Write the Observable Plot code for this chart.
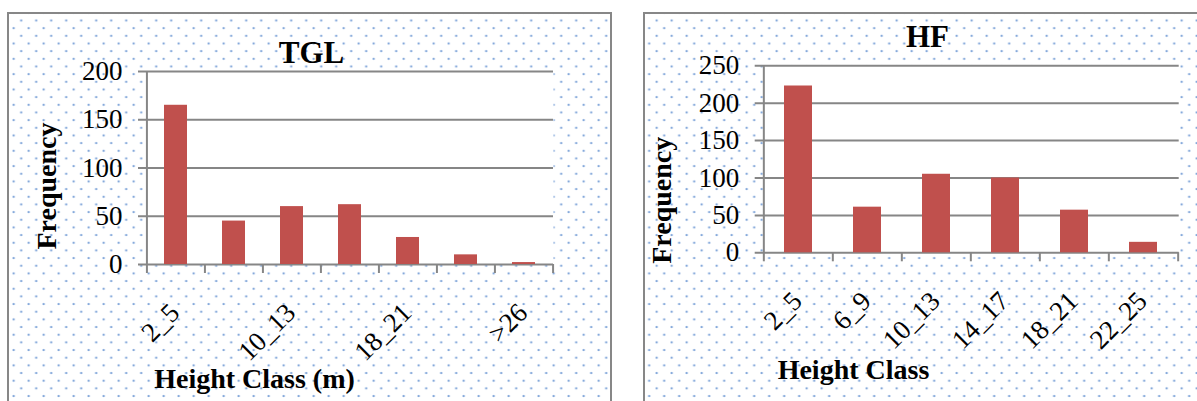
<!DOCTYPE html>
<html>
<head>
<meta charset="utf-8">
<script src="https://cdn.jsdelivr.net/npm/d3@7"></script>
<script src="https://cdn.jsdelivr.net/npm/@observablehq/plot@0.6"></script>
<style>
  html, body { margin: 0; padding: 0; background: #fff; }
  #page { position: relative; width: 1197px; height: 401px; overflow: hidden; background: #fff; }
  .panel {
    position: absolute;
    box-sizing: border-box;
    border: 2.6px solid #878787;
    background-color: #fff;
    background-image:
      radial-gradient(circle, rgba(96,143,208,0.95) 0, rgba(96,143,208,0.8) 0.7px, rgba(96,143,208,0) 1.5px),
      radial-gradient(circle, rgba(96,143,208,0.95) 0, rgba(96,143,208,0.8) 0.7px, rgba(96,143,208,0) 1.5px);
    background-size: 15px 15.33px, 15px 15.33px;
  }
  #panel-tgl { left: 7px; top: 11.5px; width: 605px; height: 430px; background-position: 4.7px -1.2px, 12.2px 6.5px; }
  #panel-hf { left: 642.5px; top: 11.5px; width: 600px; height: 430px; background-position: 4.2px -1.2px, 11.7px 6.5px; }
  .chart { position: absolute; top: 0; }
  #chart-tgl { left: 0; }
  #chart-hf { left: 630px; }
  .chart svg { overflow: visible; }
</style>
</head>
<body>
<div id="page">
  <div class="panel" id="panel-tgl"></div>
  <div class="panel" id="panel-hf"></div>
  <div class="chart" id="chart-tgl"></div>
  <div class="chart" id="chart-hf"></div>
</div>
<script>
// TGL stand: tree counts per height class
const tglClasses = ["2_5", "6_9", "10_13", "14_17", "18_21", "22_25", ">26"];
const tglFrequency = [165, 45, 60, 62, 28, 10, 2];
const tglTickLabels = ["2_5", "10_13", "18_21", ">26"];
const tglYTicks = [0, 50, 100, 150, 200];

// HF stand: tree counts per height class
const hfClasses = ["2_5", "6_9", "10_13", "14_17", "18_21", "22_25"];
const hfFrequency = [223, 61, 105, 100, 57, 14];
const hfTickLabels = ["2_5", "6_9", "10_13", "14_17", "18_21", "22_25"];
const hfYTicks = [0, 50, 100, 150, 200, 250];

const serif = "'Liberation Serif', 'Times New Roman', Times, serif";
const axisGray = "#868686";
const barRed = "#c0504d";

function histogram(cfg) {
  const {classes, values, tickLabels, yTicks, title, xTitle, width, height, margin,
         titleShift, xTitleShift, yTitleShift} = cfg;
  const rows = classes.map((c, i) => ({cls: c, n: values[i]}));
  const innerW = width - margin.left - margin.right;
  const innerH = height - margin.top - margin.bottom;
  const step = innerW / classes.length;
  const ruleStyle = {stroke: axisGray, strokeWidth: 2};
  return Plot.plot({
    width, height,
    marginTop: margin.top, marginRight: margin.right,
    marginBottom: margin.bottom, marginLeft: margin.left,
    style: {background: "transparent", overflow: "visible", fontFamily: serif, color: "#000"},
    x: {type: "band", domain: classes, paddingInner: 0.6, paddingOuter: 0.3, axis: null},
    y: {domain: [0, yTicks[yTicks.length - 1]], axis: null},
    marks: [
      Plot.frame({fill: "white", stroke: "none"}),
      // horizontal gridlines, each with a short outward tick
      Plot.ruleY(yTicks, {...ruleStyle, insetLeft: -8}),
      Plot.barY(rows, {x: "cls", y: "n", fill: barRed}),
      // vertical value axis
      Plot.ruleX(classes.slice(0, 1), {x: d => d, dx: -step / 2, ...ruleStyle}),
      // category boundary ticks below the baseline
      Plot.ruleX(classes, {x: d => d, dx: -step / 2, ...ruleStyle, insetTop: innerH, insetBottom: -9}),
      Plot.ruleX(classes.slice(-1), {x: d => d, dx: step / 2, ...ruleStyle, insetTop: innerH, insetBottom: -9}),
      Plot.axisY(yTicks, {anchor: "left", tickSize: 0, tickPadding: 24, fontSize: 27, fill: "#000", label: null}),
      Plot.text(tickLabels, {
        x: d => d, frameAnchor: "bottom", rotate: -45, textAnchor: "end", lineAnchor: "bottom",
        dx: 5, dy: 50, fontSize: 27, fill: "#000"
      }),
      Plot.text([title], {
        frameAnchor: "top", textAnchor: "middle", lineAnchor: "bottom",
        dx: titleShift[0], dy: titleShift[1], fontSize: 31, fontWeight: "bold", fill: "#000"
      }),
      Plot.text([xTitle], {
        frameAnchor: "bottom-left", textAnchor: "middle", lineAnchor: "bottom",
        dx: xTitleShift[0], dy: xTitleShift[1], fontSize: 28, fontWeight: "bold", fill: "#000"
      }),
      Plot.text(["Frequency"], {
        frameAnchor: "left", rotate: -90, textAnchor: "middle", lineAnchor: "bottom",
        dx: yTitleShift[0], dy: yTitleShift[1], fontSize: 28, fontWeight: "bold", fill: "#000"
      })
    ]
  });
}

document.getElementById("chart-tgl").append(histogram({
  classes: tglClasses, values: tglFrequency, tickLabels: tglTickLabels, yTicks: tglYTicks,
  title: "TGL", xTitle: "Height Class (m)",
  width: 620, height: 401,
  margin: {top: 71, right: 67, bottom: 137, left: 146},
  titleShift: [-38.5, -9], xTitleShift: [108, 123], yTitleShift: [-91, 18]
}));

document.getElementById("chart-hf").append(histogram({
  classes: hfClasses, values: hfFrequency, tickLabels: hfTickLabels, yTicks: hfYTicks,
  title: "HF", xTitle: "Height Class",
  width: 567, height: 401,
  margin: {top: 65.3, right: 18.3, bottom: 148.7, left: 132.7},
  titleShift: [-43.7, -19.3], xTitleShift: [90.3, 125.7], yTitleShift: [-92, 41]
}));
</script>
</body>
</html>
